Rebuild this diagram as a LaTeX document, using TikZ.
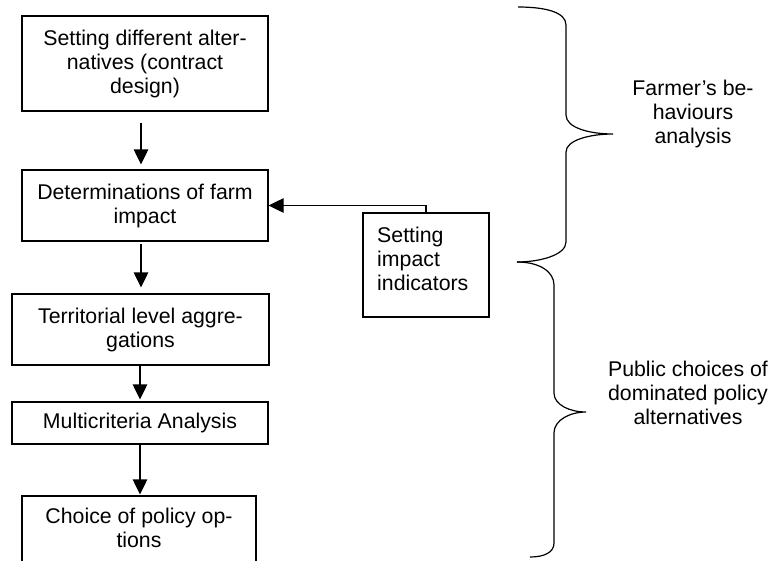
\documentclass[tikz,border=0pt]{standalone}
\usepackage{fontspec}
\setmainfont{Liberation Sans}
\usetikzlibrary{arrows.meta}
\begin{document}
\begin{tikzpicture}[x=1pt,y=-1pt,
  every node/.style={font=\fontsize{21.3}{24}\selectfont},
  procbox/.style={draw,line width=1.2pt,inner sep=0pt,align=center},
  arr/.style={line width=1.2pt,-{Triangle[length=15pt,width=14.5pt]}},
  bracepath/.style={line width=1.2pt},
  sidelabel/.style={align=center,inner sep=0pt}]
\useasboundingbox (0,0) rectangle (771,560);
\node[procbox,minimum width=246pt,minimum height=95pt] (b1) at (145,63.5)
  {Setting different alter-\\natives (contract\\design)};
\node[procbox,minimum width=246pt,minimum height=71pt] (b2) at (145,205.5)
  {Determinations of farm\\impact};
\node[procbox,minimum width=257pt,minimum height=71pt] (b3) at (140.5,329.5)
  {Territorial level aggre-\\gations};
\node[procbox,minimum width=256pt,minimum height=42pt] (b4) at (140,423)
  {Multicriteria Analysis};
\node[procbox,minimum width=234pt,minimum height=70pt] (b5) at (139,531)
  {\raisebox{3pt}{\begin{tabular}{@{}c@{}}Choice of policy op-\\tions\end{tabular}}};
\node[draw,line width=1.2pt,minimum width=126pt,minimum height=104pt,inner sep=0pt] (ind) at (426,265) {};
\node[anchor=west,align=left,inner sep=0pt] (indtext) at (377,258.5)
  {Setting\\impact\\indicators};
\coordinate (a1s) at ([xshift=-4pt,yshift=-11pt]b1.south);
\coordinate (a2s) at ([xshift=-4pt,yshift=-2pt]b2.south);
\draw[arr] (a1s) -- ([yshift=5pt]a1s |- b2.north);
\draw[arr] (a2s) -- ([yshift=6pt]a2s |- b3.north);
\draw[arr] ([xshift=-0.5pt]b3.south) -- ([xshift=-0.5pt,yshift=2pt]b3.south |- b4.north);
\draw[arr] (b4.south) -- ([yshift=1pt]b4.south |- b5.north);
\draw[arr] (ind.north) |- (b2.east);
% braces
\draw[bracepath] (518,7) .. controls (545,7) and (566,12) .. (566,25) -- (566,115)
  .. controls (566,128) and (590,134) .. (613,134)
  .. controls (590,134) and (566,140) .. (566,152) -- (566,242)
  .. controls (566,255) and (540,262) .. (517,262);
\draw[bracepath] (517,262) .. controls (540,262) and (554,272) .. (554,285) -- (554,393)
  .. controls (554,405) and (570,412) .. (586,412)
  .. controls (570,412) and (554,420) .. (554,433) -- (554,543)
  .. controls (554,552) and (545,557) .. (530,557);
\node[sidelabel] (farm) at (693,114) {Farmer’s be-\\haviours\\analysis};
\node[sidelabel] (pub) at (688,393) {Public choices of\\dominated policy\\alternatives};
\end{tikzpicture}
\end{document}
